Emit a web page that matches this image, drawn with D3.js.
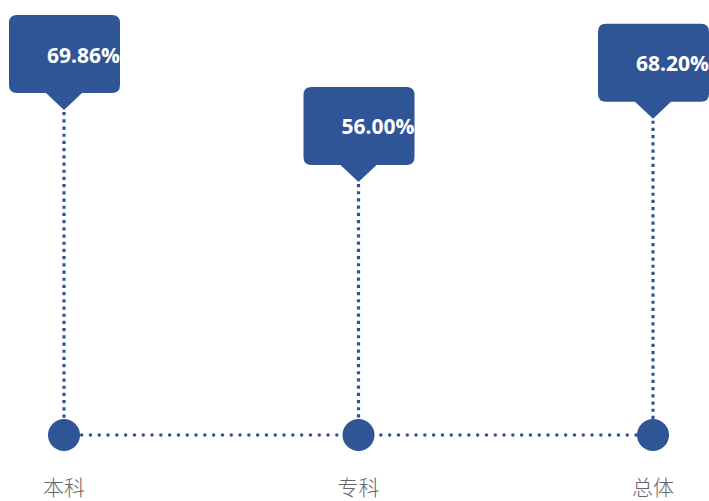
<!DOCTYPE html>
<html><head><meta charset="utf-8">
<script src="https://cdn.jsdelivr.net/npm/d3@7"></script>
<style>html,body{margin:0;padding:0;background:#fff;overflow:hidden}</style>
</head><body>
<svg id="chart" width="709" height="501"></svg>
<script>
const categories = ["本科", "专科", "总体"];
const values = [69.86, 56.00, 68.20];
const valueLabels = ["69.86%", "56.00%", "68.20%"];

const color = "#2f5597";
const svg = d3.select("#chart");
const x = d3.scalePoint().domain(categories).range([64, 653]);
const y = d3.scaleLinear().domain([50, 70]).range([213.1, 109.3]);
const baseY = 435;

// horizontal dotted line
svg.append("line")
  .attr("x1", x(categories[0])).attr("x2", x(categories[categories.length-1]))
  .attr("y1", baseY).attr("y2", baseY)
  .attr("stroke", color).attr("stroke-width", 3.4)
  .attr("stroke-linecap", "round")
  .attr("stroke-dasharray", "0.1,8.7");

const g = svg.selectAll("g.item").data(categories).enter().append("g").attr("class","item");

// vertical dotted lines
g.append("line")
  .attr("x1", d => x(d)).attr("x2", d => x(d))
  .attr("y1", (d,i) => y(values[i]) + 2).attr("y2", baseY)
  .attr("stroke", color).attr("stroke-width", 3.2)
  .attr("stroke-dasharray", "3.2,4");

// circles
g.append("circle")
  .attr("cx", d => x(d)).attr("cy", baseY).attr("r", 16)
  .attr("fill", color);

// callouts
const bw = 111, bh = 78, ph = 17, pw = 18, r = 8;
function calloutPath(cx, tipY) {
  const bottom = tipY - ph, top = bottom - bh;
  const left = cx - 55, right = left + bw;
  return `M${left+r},${top} H${right-r} Q${right},${top} ${right},${top+r} V${bottom-r} Q${right},${bottom} ${right-r},${bottom}` +
         ` H${cx+pw} L${cx},${tipY} L${cx-pw},${bottom} H${left+r} Q${left},${bottom} ${left},${bottom-r} V${top+r} Q${left},${top} ${left+r},${top} Z`;
}
g.append("path")
  .attr("d", (d,i) => calloutPath(x(d), y(values[i])))
  .attr("fill", color);

g.append("text")
  .attr("x", d => x(d) - 55 + 38)
  .attr("y", (d,i) => y(values[i]) - ph - bh + 47.5)
  .attr("fill", "#fff")
  .attr("font-family", "'Open Sans', sans-serif")
  .attr("font-weight", 700)
  .attr("font-size", 21)
  .text((d,i) => valueLabels[i]);

// category labels
g.append("text")
  .attr("x", d => x(d)).attr("y", 495)
  .attr("text-anchor", "middle")
  .attr("fill", "#666")
  .attr("font-family", "'Noto Sans CJK SC', sans-serif")
  .attr("font-weight", 300)
  .attr("font-size", 21)
  .text(d => d);
</script>
</body></html>
